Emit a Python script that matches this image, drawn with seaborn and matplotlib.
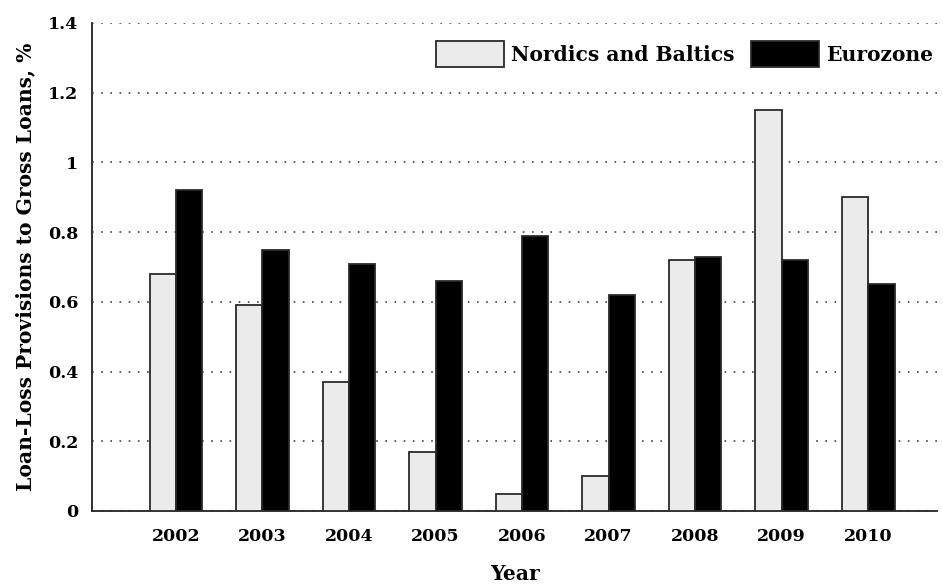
import matplotlib
matplotlib.use("Agg")
import matplotlib.pyplot as plt
import seaborn as sns
import pandas as pd
from matplotlib.patches import Patch

years = ["2002", "2003", "2004", "2005", "2006", "2007", "2008", "2009", "2010"]
nordics = [0.68, 0.59, 0.37, 0.17, 0.05, 0.10, 0.72, 1.15, 0.90]
eurozone = [0.92, 0.75, 0.71, 0.66, 0.79, 0.62, 0.73, 0.72, 0.65]
series = ["Nordics and Baltics", "Eurozone"]
yticks = [0, 0.2, 0.4, 0.6, 0.8, 1.0, 1.2, 1.4]
ytick_labels = ["0", "0.2", "0.4", "0.6", "0.8", "1", "1.2", "1.4"]

df = pd.DataFrame({
    "Year": years * 2,
    "value": nordics + eurozone,
    "Region": [series[0]] * len(years) + [series[1]] * len(years),
})

sns.set_theme(style="white")
plt.rcParams["font.family"] = ["DejaVu Serif"]
plt.rcParams["font.weight"] = "bold"
plt.rcParams["axes.unicode_minus"] = False
for key in ["text.color", "axes.labelcolor", "xtick.color", "ytick.color"]:
    plt.rcParams[key] = "black"

NUM_FS = 12.5   # tick numbers
TXT_FS = 14.6   # axis titles and legend

fig = plt.figure(figsize=(9.43, 5.85), dpi=100)
ax = fig.add_axes([0.0976, 0.1265, 0.8964, 0.8342])

palette = {series[0]: "#ebebeb", series[1]: "#000000"}
sns.barplot(data=df, x="Year", y="value", hue="Region", palette=palette,
            width=0.61, edgecolor="#2a2a2a", linewidth=1.3, saturation=1,
            ax=ax, legend=False, zorder=3)

ax.set_ylim(0, 1.4)
ax.set_xlim(-0.97, 8.80)
ax.set_yticks(yticks)
ax.set_yticklabels(ytick_labels)
ax.yaxis.grid(True, linestyle=(0, (1, 4.5)), color="#444444", linewidth=1.2, zorder=0)
ax.set_axisbelow(True)

for s in ["top", "right"]:
    ax.spines[s].set_visible(False)
for s in ["left", "bottom"]:
    ax.spines[s].set_color("#222222")
    ax.spines[s].set_linewidth(1.3)

ax.tick_params(axis="y", direction="in", length=5, width=1.2, color="#222222",
               labelsize=NUM_FS, pad=10)
ax.tick_params(axis="x", length=0, labelsize=NUM_FS, pad=12)
for lab in ax.get_xticklabels() + ax.get_yticklabels():
    lab.set_fontweight("bold")

ax.set_xlabel("Year", fontsize=TXT_FS, fontweight="bold", labelpad=14)
ax.set_ylabel("Loan-Loss Provisions to Gross Loans, %", fontsize=TXT_FS,
              fontweight="bold", labelpad=9)

handles = [Patch(facecolor=palette[s], edgecolor="#2a2a2a", linewidth=1.3, label=s)
           for s in series]
ax.legend(handles=handles, loc="upper right", ncol=2, frameon=False,
          handlelength=3.35, handleheight=1.55, columnspacing=0.84,
          handletextpad=0.35, borderpad=0.2, borderaxespad=0.0,
          bbox_to_anchor=(1.0, 0.971),
          prop={"weight": "bold", "size": TXT_FS})

fig.savefig("out.png", dpi=100)
